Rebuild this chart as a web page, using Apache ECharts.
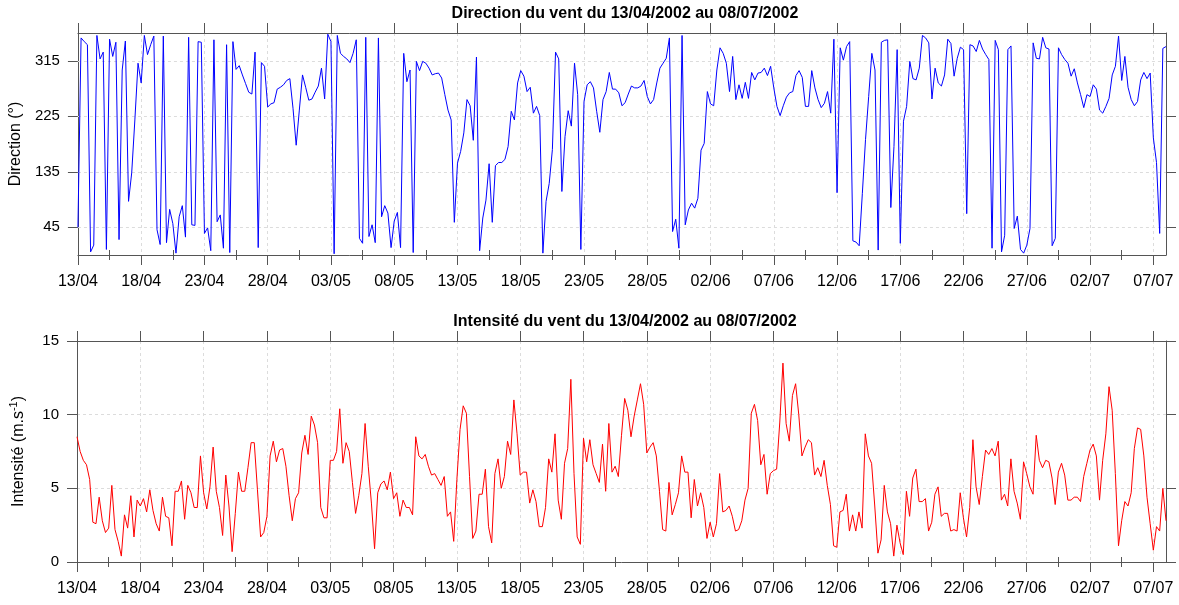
<!DOCTYPE html>
<html>
<head>
<meta charset="utf-8">
<title>Vent 13/04/2002 - 08/07/2002</title>
<script src="https://cdn.jsdelivr.net/npm/echarts@6/dist/echarts.min.js"></script>
<style>
  html, body { margin: 0; padding: 0; background: #ffffff; }
  #chart { width: 1179px; height: 605px; }
</style>
</head>
<body>
<div id="chart"></div>
<script>
// Six-hourly wind record, first sample 13/04/2002 00:00 UTC
const startUTC = Date.UTC(2002, 3, 13);
const stepDays = 0.25;
const spanDays = 86; // axis runs to 08/07/2002

// Wind direction (degrees)
const direction = [
  45, 352, 346, 341, 5, 16, 356, 318, 329, 9,
  350, 322, 345, 25, 300, 347, 87, 133, 219, 311,
  279, 356, 325, 341, 355, 41, 17, 355, 20, 74,
  51, 3, 62, 80, 29, 353, 49, 48, 346, 345,
  35, 44, 7, 349, 54, 65, 11, 341, 4, 346,
  301, 307, 292, 278, 264, 261, 329, 12, 312, 306,
  240, 245, 247, 269, 272, 276, 283, 286, 238, 178,
  235, 292, 272, 251, 253, 264, 274, 303, 253, 358,
  346, 2, 356, 327, 322, 318, 312, 327, 349, 27,
  19, 353, 30, 49, 20, 352, 62, 80, 68, 12,
  55, 69, 12, 327, 281, 300, 4, 314, 299, 314,
  311, 303, 292, 294, 295, 287, 260, 235, 219, 53,
  149, 168, 198, 252, 242, 186, 321, 7, 60, 89,
  148, 53, 145, 150, 150, 155, 176, 233, 219, 279,
  299, 290, 265, 272, 230, 241, 226, 3, 87, 116,
  171, 329, 318, 103, 192, 234, 209, 311, 260, 9,
  249, 276, 281, 271, 233, 199, 252, 265, 296, 269,
  269, 263, 242, 247, 261, 274, 271, 271, 274, 283,
  257, 245, 252, 279, 303, 311, 319, 352, 38, 58,
  11, 356, 49, 73, 84, 76, 92, 170, 181, 265,
  245, 242, 300, 336, 327, 311, 265, 322, 252, 276,
  254, 280, 254, 296, 284, 295, 296, 303, 291, 306,
  271, 241, 226, 242, 256, 263, 265, 291, 299, 288,
  241, 241, 299, 271, 252, 239, 246, 265, 230, 350,
  101, 336, 316, 338, 346, 23, 21, 15, 100, 187,
  257, 327, 300, 8, 345, 348, 349, 77, 176, 333,
  19, 217, 241, 314, 286, 284, 303, 356, 352, 344,
  253, 303, 279, 274, 292, 350, 343, 290, 319, 337,
  333, 67, 341, 339, 330, 348, 334, 325, 317, 11,
  348, 333, 5, 32, 333, 339, 43, 63, 9, 3,
  16, 43, 344, 319, 318, 353, 336, 334, 15, 27,
  336, 325, 317, 311, 290, 302, 279, 260, 239, 260,
  257, 276, 269, 235, 230, 241, 254, 292, 306, 355,
  283, 322, 272, 252, 242, 249, 284, 296, 286, 295,
  190, 150, 35, 335, 338
];

// Wind speed (m/s)
const intensity = [
  8.5, 7.5, 6.9, 6.6, 5.6, 2.7, 2.6, 4.4, 2.8, 2.0,
  2.3, 5.2, 2.2, 1.4, 0.4, 3.2, 2.3, 4.5, 1.7, 4.2,
  3.8, 4.3, 3.4, 4.9, 3.5, 2.6, 2.1, 4.4, 3.1, 3.0,
  1.1, 4.8, 4.8, 5.5, 2.9, 5.2, 4.7, 3.7, 3.7, 7.2,
  4.7, 3.6, 5.1, 7.8, 4.8, 3.7, 1.8, 5.9, 3.8, 0.7,
  3.3, 6.1, 4.8, 4.8, 6.4, 8.1, 8.1, 4.9, 1.7, 2.0,
  3.1, 7.2, 8.2, 6.8, 7.6, 7.7, 6.5, 4.5, 2.8, 4.3,
  4.7, 7.4, 8.6, 7.3, 9.9, 9.3, 8.1, 3.7, 3.0, 3.0,
  6.9, 6.9, 7.5, 10.4, 6.7, 8.1, 7.5, 5.4, 3.3, 4.5,
  6.0, 9.4, 6.5, 4.0, 0.9, 4.7, 5.3, 5.5, 4.9, 6.1,
  4.3, 4.7, 3.1, 4.2, 3.7, 3.7, 3.2, 8.5, 7.2, 7.0,
  7.3, 6.5, 5.9, 6.0, 5.6, 5.2, 5.8, 3.1, 3.4, 1.4,
  5.6, 9.0, 10.6, 10.1, 5.8, 1.6, 2.1, 4.6, 4.6, 6.3,
  2.4, 1.3, 6.0, 7.0, 5.0, 5.8, 8.2, 7.3, 11.0, 8.7,
  5.9, 6.1, 6.1, 4.0, 4.9, 4.1, 2.4, 2.4, 3.7, 7.0,
  6.1, 8.7, 4.2, 2.9, 6.7, 7.7, 12.4, 6.0, 1.7, 1.2,
  8.4, 6.8, 8.3, 6.6, 6.0, 5.4, 8.0, 4.8, 9.4, 6.1,
  6.5, 5.8, 8.6, 11.1, 10.3, 8.5, 9.9, 11.0, 12.1, 10.7,
  7.4, 7.8, 8.1, 7.2, 4.8, 2.2, 2.1, 5.4, 3.2, 3.9,
  4.7, 7.2, 6.1, 6.1, 3.0, 5.6, 3.8, 4.7, 3.7, 1.6,
  2.7, 1.7, 2.6, 6.0, 3.4, 3.5, 3.8, 3.1, 2.1, 2.2,
  2.8, 4.2, 5.0, 10.1, 10.7, 9.6, 6.6, 7.3, 4.6, 6.0,
  6.2, 6.3, 9.5, 13.5, 9.4, 8.2, 11.3, 12.1, 10.0, 7.2,
  7.8, 8.3, 8.1, 5.9, 6.4, 5.8, 6.9, 5.2, 3.9, 1.1,
  1.0, 3.4, 3.5, 4.6, 2.1, 3.2, 2.1, 3.4, 2.3, 8.7,
  7.2, 6.7, 3.8, 0.6, 1.5, 5.2, 3.4, 2.6, 0.4, 2.5,
  1.3, 0.5, 4.8, 3.1, 5.7, 6.3, 4.1, 4.1, 4.3, 2.1,
  2.7, 4.6, 5.1, 3.1, 3.3, 3.3, 2.1, 2.2, 2.1, 4.7,
  3.0, 1.7, 3.7, 8.3, 5.1, 3.9, 5.8, 7.6, 7.3, 7.7,
  7.2, 8.2, 4.2, 4.6, 3.8, 7.0, 4.8, 4.0, 2.9, 6.8,
  6.0, 5.1, 4.6, 8.6, 6.9, 6.4, 6.9, 6.8, 5.7, 3.9,
  6.1, 6.7, 5.9, 4.2, 4.2, 4.4, 4.4, 4.1, 5.8, 6.7,
  7.6, 8.0, 7.2, 4.2, 6.9, 8.7, 11.9, 10.3, 6.0, 1.1,
  2.8, 4.1, 3.8, 4.7, 7.7, 9.1, 9.0, 7.2, 4.4, 2.6,
  0.8, 2.4, 2.1, 5.0, 2.8
];

// Tick positions (days since 13/04) and y tick values
const majorDays = [0, 5, 10, 15, 20, 25, 30, 35, 40, 45, 50, 55, 60, 65, 70, 75, 80, 85];
const minorDays = [2.5, 7.5, 12.5, 17.5, 22.5, 27.5, 32.5, 37.5, 42.5, 47.5, 52.5, 57.5, 62.5, 67.5, 72.5, 77.5, 82.5];
const directionTicks = [45, 135, 225, 315];
const intensityTicks = [0, 5, 10, 15];

const FONT = "'Liberation Sans', Arial, Helvetica, sans-serif";
const FRAME = '#555555';
const GRID = '#dcdcdc';

function dayLabel(v) {
  const d = new Date(startUTC + v * 86400000);
  const dd = String(d.getUTCDate()).padStart(2, '0');
  const mm = String(d.getUTCMonth() + 1).padStart(2, '0');
  return dd + '/' + mm;
}

function toPairs(values) {
  return values.map((v, k) => [k * stepDays, v]);
}

// Builds the four x axes (major/minor ticks, bottom/top) of one panel
function xAxesFor(gridIndex) {
  const base = {
    gridIndex: gridIndex, type: 'value', min: 0, max: spanDays,
    axisLine: { show: false }, axisLabel: { show: false },
    splitLine: { show: false }, axisPointer: { show: false }
  };
  return [
    Object.assign({}, base, {
      position: 'bottom', interval: 5,
      axisLine: { show: true, onZero: false, lineStyle: { color: FRAME, width: 1 } },
      axisTick: { show: true, inside: false, length: 10, customValues: majorDays, lineStyle: { color: FRAME } },
      axisLabel: {
        show: true, customValues: majorDays, margin: 19, formatter: dayLabel,
        color: '#000', fontSize: 16, fontFamily: FONT
      },
      splitLine: { show: true, lineStyle: { color: GRID, type: [3, 3], width: 1 } }
    }),
    Object.assign({}, base, {
      position: 'bottom',
      axisTick: { show: true, inside: false, length: 5, customValues: minorDays, lineStyle: { color: FRAME } }
    }),
    Object.assign({}, base, {
      position: 'top',
      axisLine: { show: true, onZero: false, lineStyle: { color: FRAME, width: 1 } },
      axisTick: { show: true, inside: false, length: 10, customValues: majorDays, lineStyle: { color: FRAME } }
    }),
    Object.assign({}, base, {
      position: 'top',
      axisTick: { show: true, inside: false, length: 5, customValues: minorDays, lineStyle: { color: FRAME } }
    })
  ];
}

function yAxesFor(gridIndex, min, max, interval, ticks, name, nameRich, showSplit) {
  const line = { show: true, onZero: false, lineStyle: { color: FRAME, width: 1 } };
  const tick = { show: true, inside: false, length: 10, customValues: ticks, lineStyle: { color: FRAME } };
  return [
    {
      gridIndex: gridIndex, type: 'value', position: 'left', min: min, max: max, interval: interval,
      axisLine: line, axisTick: tick,
      axisLabel: { show: true, customValues: ticks, margin: 18, color: '#000', fontSize: 15, fontFamily: FONT },
      splitLine: { show: showSplit, lineStyle: { color: GRID, type: [3, 3], width: 1 } },
      name: name, nameLocation: 'middle', nameGap: 47, nameRotate: 90,
      nameTextStyle: { color: '#000', fontSize: 16, fontFamily: FONT, rich: nameRich }
    },
    {
      gridIndex: gridIndex, type: 'value', position: 'right', min: min, max: max, interval: interval,
      axisLine: line, axisTick: tick, axisLabel: { show: false }, splitLine: { show: false }
    }
  ];
}

const chart = echarts.init(document.getElementById('chart'), null, { renderer: 'canvas' });

chart.setOption({
  animation: false,
  backgroundColor: '#ffffff',
  title: [
    {
      text: 'Direction du vent du 13/04/2002 au 08/07/2002',
      left: 620, top: 1, textAlign: 'center',
      textStyle: { fontSize: 16, fontWeight: 'bold', color: '#000', fontFamily: FONT }
    },
    {
      text: 'Intensité du vent du 13/04/2002 au 08/07/2002',
      left: 620, top: 309, textAlign: 'center',
      textStyle: { fontSize: 16, fontWeight: 'bold', color: '#000', fontFamily: FONT }
    }
  ],
  grid: [
    { left: 73, top: 33, width: 1093, height: 222, containLabel: false },
    { left: 73, top: 341, width: 1093, height: 221, containLabel: false }
  ],
  xAxis: xAxesFor(0).concat(xAxesFor(1)),
  yAxis: yAxesFor(0, 0, 360, 45, directionTicks, 'Direction (°)', {}, false).concat(
    yAxesFor(1, 0, 15, 5, intensityTicks, '{t|Intensité (m.s}{s|-1}{t|)}', {
      t: { fontSize: 16, fontFamily: FONT, color: '#000', lineHeight: 22 },
      s: { fontSize: 11, fontFamily: FONT, color: '#000', verticalAlign: 'top', lineHeight: 12 }
    }, true)
  ),
  series: [
    {
      name: 'Direction', type: 'line', xAxisIndex: 0, yAxisIndex: 0,
      data: toPairs(direction), showSymbol: false, symbol: 'none', z: 3,
      lineStyle: { color: '#0000ff', width: 1 },
      markLine: {
        silent: true, symbol: ['none', 'none'], z: 1, animation: false,
        label: { show: false },
        lineStyle: { color: GRID, type: [3, 3], width: 1 },
        data: directionTicks.map(v => ({ yAxis: v }))
      }
    },
    {
      name: 'Intensité', type: 'line', xAxisIndex: 4, yAxisIndex: 2,
      data: toPairs(intensity), showSymbol: false, symbol: 'none', z: 3,
      lineStyle: { color: '#ff0000', width: 1 }
    }
  ]
});
</script>
</body>
</html>
